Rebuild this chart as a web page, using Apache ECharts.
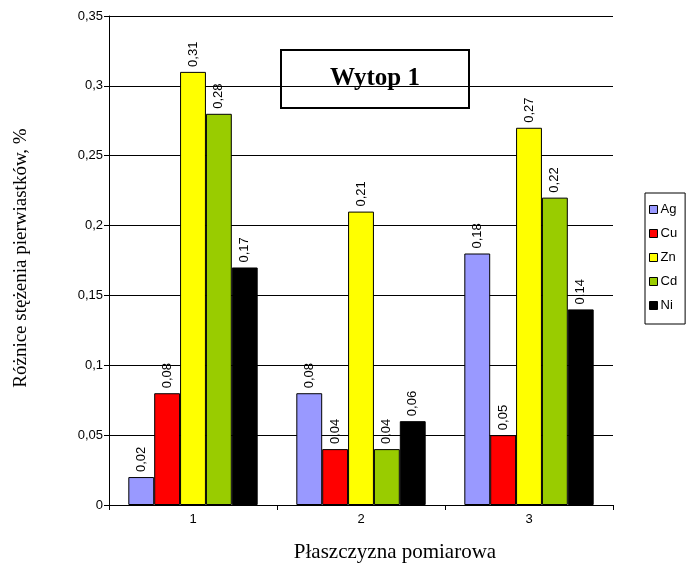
<!DOCTYPE html>
<html><head><meta charset="utf-8">
<script src="https://cdn.jsdelivr.net/npm/echarts@6/dist/echarts.min.js"></script>
<style>html,body{margin:0;padding:0;background:#fff}#c{width:687px;height:570px}</style>
</head><body><div id="c"></div>
<script>
var categories = ['1', '2', '3'];
var seriesNames = ['Ag', 'Cu', 'Zn', 'Cd', 'Ni'];
var Ag = [0.02, 0.08, 0.18];
var Cu = [0.08, 0.04, 0.05];
var Zn = [0.31, 0.21, 0.27];
var Cd = [0.28, 0.04, 0.22];
var Ni = [0.17, 0.06, 0.14];
var colors = ['#9999FF', '#FF0000', '#FFFF00', '#99CC00', '#000000'];
var dataSets = [Ag, Cu, Zn, Cd, Ni];

function fmt(v) { return String(v).replace('.', ','); }

var chart = echarts.init(document.getElementById('c'));
var series = seriesNames.map(function (n, i) {
  return {
    name: n, type: 'bar', data: dataSets[i],
    barGap: '0%', barCategoryGap: '23%',
    itemStyle: { color: colors[i], borderColor: '#000', borderWidth: 1 },
    label: {
      show: true, position: 'top', rotate: 90, align: 'left', verticalAlign: 'middle',
      distance: 5, fontFamily: 'Liberation Sans, Arial', fontSize: 13, color: '#000',
      formatter: function (p) { return fmt(p.value); }
    }
  };
});

chart.setOption({
  animation: false,
  textStyle: { fontFamily: 'Liberation Sans, Arial' },
  grid: { left: 109, right: 74, top: 16, bottom: 65 },
  legend: {
    orient: 'vertical', left: 645, top: 193,
    itemWidth: 8, itemHeight: 8, itemGap: 11,
    icon: 'rect',
    textStyle: { fontSize: 13, color: '#000', padding: [0, 0, 0, -2] },
    borderColor: '#000', borderWidth: 1, padding: [10, 8, 12, 4],
    data: seriesNames.map(function (n) { return { name: n, itemStyle: { borderColor: '#000', borderWidth: 1 } }; })
  },
  xAxis: {
    type: 'category', data: categories,
    axisLine: { lineStyle: { color: '#000', width: 1 } },
    axisTick: { show: true, length: 5, lineStyle: { color: '#000' } },
    axisLabel: { fontSize: 13, color: '#000', margin: 8 }
  },
  yAxis: {
    type: 'value', min: 0, max: 0.35, interval: 0.05,
    axisLine: { show: true, lineStyle: { color: '#000', width: 1 } },
    axisTick: { show: true, length: 5, inside: false, lineStyle: { color: '#000' } },
    axisLabel: { fontSize: 13, color: '#000', margin: 6, formatter: function (v) { return fmt(Math.round(v * 100) / 100); } },
    splitLine: { show: true, lineStyle: { color: '#000', width: 1 } }
  },
  graphic: [{
    type: 'group', left: 280, top: 49,
    children: [
      { type: 'rect', shape: { x: 0, y: 0, width: 188, height: 58 }, style: { fill: '#fff', stroke: '#000', lineWidth: 2 } },
      { type: 'text', x: 94, y: 29, style: { text: 'Wytop 1', fontFamily: 'Liberation Serif, Times New Roman', fontWeight: 'bold', fontSize: 25, fill: '#000', align: 'center', verticalAlign: 'middle' } }
    ]
  }, {
    type: 'text', x: 395, y: 552,
    style: { text: 'Płaszczyzna pomiarowa', fontFamily: 'Liberation Serif, Times New Roman', fontSize: 21, fill: '#000', align: 'center', verticalAlign: 'middle' }
  }, {
    type: 'text', x: 21, y: 258, rotation: Math.PI / 2,
    style: { text: 'Różnice stężenia pierwiastków, %', fontFamily: 'Liberation Serif, Times New Roman', fontSize: 19, fill: '#000', align: 'center', verticalAlign: 'middle' }
  }],
  series: series
});
</script></body></html>
